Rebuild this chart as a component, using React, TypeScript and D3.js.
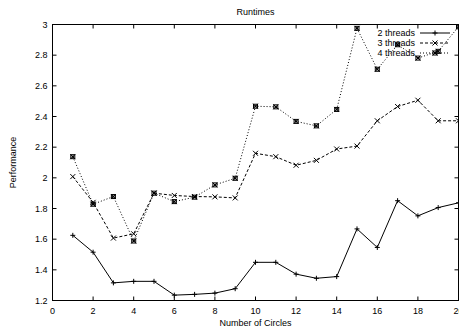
import React from "react";
import * as d3 from "d3";

const xs = [1, 2, 3, 4, 5, 6, 7, 8, 9, 10, 11, 12, 13, 14, 15, 16, 17, 18, 19, 20];
const threads2 = [1.625, 1.515, 1.315, 1.325, 1.325, 1.235, 1.24, 1.248, 1.277, 1.449, 1.449, 1.372, 1.345, 1.356, 1.667, 1.546, 1.851, 1.752, 1.806, 1.837];
const threads3 = [2.008, 1.84, 1.607, 1.635, 1.9, 1.885, 1.878, 1.876, 1.869, 2.16, 2.138, 2.082, 2.114, 2.188, 2.207, 2.372, 2.465, 2.506, 2.372, 2.372];
const threads4 = [2.138, 1.828, 1.878, 1.588, 1.9, 1.845, 1.874, 1.954, 1.997, 2.467, 2.463, 2.368, 2.339, 2.446, 2.975, 2.708, 2.868, 2.781, 2.825, 2.985];
const seriesNames = ["2 threads", "3 threads", "4 threads"];
const xTicks = [0, 2, 4, 6, 8, 10, 12, 14, 16, 18, 20];
const yTicks = [1.2, 1.4, 1.6, 1.8, 2, 2.2, 2.4, 2.6, 2.8, 3];

const W = 459, H = 331;
const L = 52.5, R = 458.5, T = 24.5, B = 300.5;
const font = "Liberation Sans, Arial, Helvetica, sans-serif";

function Marker({ kind, x, y }: { kind: number; x: number; y: number }) {
  const s = 2.5;
  const plus = `M${x - s},${y}H${x + s}M${x},${y - s}V${y + s}`;
  const cross = `M${x - s},${y - s}L${x + s},${y + s}M${x - s},${y + s}L${x + s},${y - s}`;
  if (kind === 0) return <path d={plus} stroke="#000" strokeWidth={1} fill="none" />;
  if (kind === 1) return <path d={cross} stroke="#000" strokeWidth={1} fill="none" />;
  return (
    <g>
      <path d={cross} stroke="#000" strokeWidth={1} fill="none" />
      <rect x={x - 2} y={y - 2} width={4} height={4} fill="none" stroke="#000" strokeWidth={1} />
      <rect x={x - 1} y={y - 1} width={2} height={2} fill="#000" />
    </g>
  );
}

export default function App() {
  const x = d3.scaleLinear().domain([0, 20]).range([L, R]);
  const y = d3.scaleLinear().domain([1.2, 3]).range([B, T]);
  const data = [threads2, threads3, threads4];
  const dashes = ["none", "3,2", "1,2"];
  const line = d3
    .line<number>()
    .x((_, i) => x(xs[i]))
    .y((d) => y(d));

  return (
    <svg width={W} height={H} style={{ position: "absolute", left: 0, top: 0, background: "#fff" }}>
      <rect width={W} height={H} fill="#fff" />
      <defs>
        <clipPath id="plotclip">
          <rect x={L} y={T} width={R - L} height={B - T} />
        </clipPath>
      </defs>
      <text x={(L + R) / 2} y={15} textAnchor="middle" fontFamily={font} fontSize={9}>
        Runtimes
      </text>
      {xTicks.map((t) => (
        <g key={"xt" + t}>
          <line x1={x(t)} x2={x(t)} y1={B} y2={B - 4} stroke="#000" />
          <line x1={x(t)} x2={x(t)} y1={T} y2={T + 4} stroke="#000" />
          <text x={x(t)} y={B + 13} textAnchor="middle" fontFamily={font} fontSize={9}>
            {t}
          </text>
        </g>
      ))}
      {yTicks.map((t) => (
        <g key={"yt" + t}>
          <line x1={L} x2={L + 4} y1={y(t)} y2={y(t)} stroke="#000" />
          <line x1={R} x2={R - 4} y1={y(t)} y2={y(t)} stroke="#000" />
          <text x={L - 5} y={y(t) + 3} textAnchor="end" fontFamily={font} fontSize={9}>
            {t}
          </text>
        </g>
      ))}
      <text
        transform={`translate(16,${(T + B) / 2}) rotate(-90)`}
        textAnchor="middle"
        fontFamily={font}
        fontSize={9}
      >
        Performance
      </text>
      <text x={(L + R) / 2} y={326} textAnchor="middle" fontFamily={font} fontSize={9}>
        Number of Circles
      </text>
      <g clipPath="url(#plotclip)">
        {data.map((d, k) => (
          <path key={"l" + k} d={line(d) || ""} fill="none" stroke="#000" strokeWidth={1} strokeDasharray={dashes[k]} />
        ))}
      </g>
      {data.map((d, k) => (
        <g key={"m" + k}>
          {d.map((v, i) => (
            <Marker key={i} kind={k} x={x(xs[i])} y={y(v)} />
          ))}
        </g>
      ))}
      {seriesNames.map((n, k) => {
        const ly = 33 + k * 10;
        return (
          <g key={"lg" + k}>
            <text x={415} y={ly + 3} textAnchor="end" fontFamily={font} fontSize={9}>
              {n}
            </text>
            <line x1={420} x2={450} y1={ly} y2={ly} stroke="#000" strokeDasharray={dashes[k]} />
            <Marker kind={k} x={435} y={ly} />
          </g>
        );
      })}
      <rect x={L} y={T} width={R - L} height={B - T} fill="none" stroke="#000" strokeWidth={1} />
    </svg>
  );
}
